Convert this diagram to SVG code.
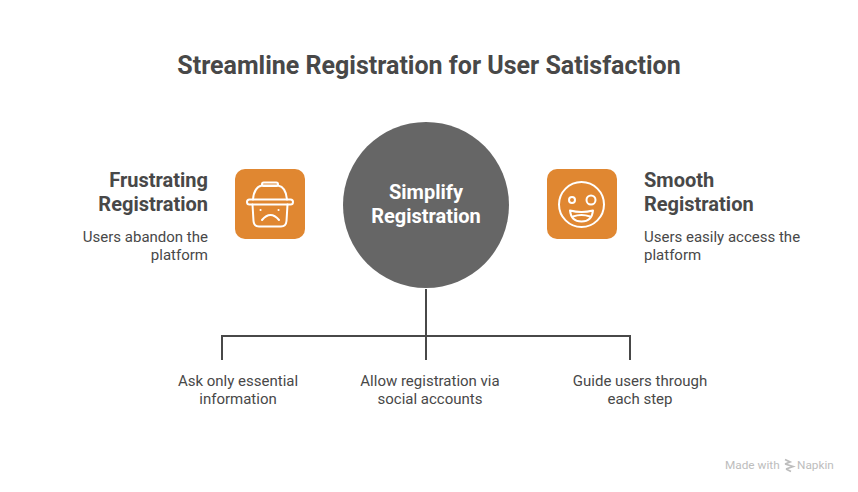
<svg xmlns="http://www.w3.org/2000/svg" width="858" height="492" viewBox="0 0 858 492">
<style>
text{font-family:Roboto,"Liberation Sans",sans-serif}
.h{font-size:25px;font-weight:700;fill:#484848;text-anchor:middle}
.t{font-size:20px;font-weight:700;fill:#484848}
.d{font-size:15px;font-weight:400;fill:#484848}
.c{font-size:20px;font-weight:700;fill:#fff;text-anchor:middle}
.m{text-anchor:middle}
.e{text-anchor:end}
.b{font-size:11.800px;fill:#bdbdbd}
.i{fill:none;stroke:#fff;stroke-width:2;stroke-linecap:round;stroke-linejoin:round}
.l{fill:none;stroke:#484848;stroke-width:2}
</style>
<rect width="858" height="492" fill="#fff"/>
<text class="h" x="429" y="74">Streamline Registration for User Satisfaction</text>
<g id="connectors">
<path class="l" d="M426 289V360M222 360V336H630V360"/>
</g>
<g id="center"><circle cx="426" cy="205" r="83" fill="#666"/>
<text class="c" x="426" y="199">Simplify</text><text class="c" x="426" y="223">Registration</text></g>
<g id="left">
<text class="t e" x="208" y="187">Frustrating</text><text class="t e" x="208" y="211">Registration</text>
<text class="d e" x="208" y="242">Users abandon the</text><text class="d e" x="208" y="260">platform</text>
<rect x="235" y="169" width="70" height="70" rx="10" fill="#e08731"/>
<g class="i"><rect x="247" y="199.500" width="46" height="5" rx="2.500"/>
<path d="M253 199.500Q254 187 262 185.500H278Q286 187 287 199.500"/>
<rect x="262" y="182.500" width="16" height="3.500" rx="1.700"/>
<path d="M252.500 204.500L253.500 221Q254 226.500 259 226.500H281Q286 226.500 286.500 221L287.500 204.500"/>
<path d="M262 220Q270.500 210 279 220"/>
<path d="M260.500 210h.1M278.500 210h.1"/></g>
</g>
<g id="right">
<rect x="547" y="169" width="70" height="70" rx="10" fill="#e08731"/>
<g class="i"><circle cx="581.500" cy="204.500" r="22.500"/>
<circle cx="572" cy="200" r="3"/><circle cx="591" cy="200" r="4.500"/>
<path d="M570 210.500Q581.500 213.500 593 210.500Q592 221.500 581.500 221.500Q571 221.500 570 210.500Z"/>
<path d="M573 216.500Q581.500 213.500 590 216.500"/></g>
<text class="t" x="644" y="187">Smooth</text><text class="t" x="644" y="211">Registration</text>
<text class="d" x="644" y="242">Users easily access the</text><text class="d" x="644" y="260">platform</text>
</g>
<g id="item1"><text class="d m" x="238" y="386">Ask only essential</text><text class="d m" x="238" y="404">information</text></g>
<g id="item2"><text class="d m" x="430" y="386">Allow registration via</text><text class="d m" x="430" y="404">social accounts</text></g>
<g id="item3"><text class="d m" x="640" y="386">Guide users through</text><text class="d m" x="640" y="404">each step</text></g>
<g id="badge"><text class="b" x="725" y="469">Made with</text>
<path d="M785 459.500L790 462L785 464M785 464L793 466.500L786 469M786 469L791 471.500" stroke="#bdbdbd" stroke-width="1.800" fill="none"/>
<text class="b" x="797" y="469">Napkin</text></g>
</svg>
